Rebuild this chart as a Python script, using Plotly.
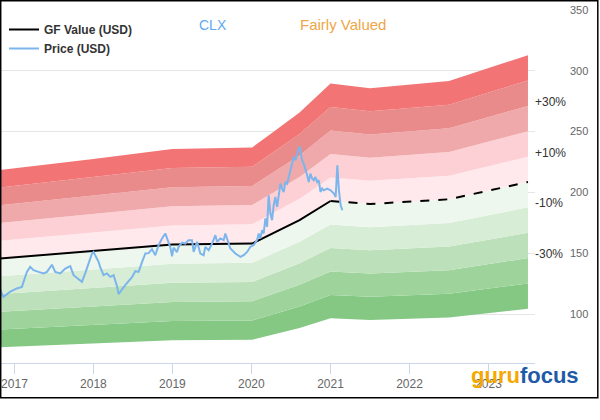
import numpy as np
import pandas as pd
import plotly.graph_objects as go

# ---------------- data ----------------
# GF Value knots (decimal years) and values (USD)
gf_t = [2016.819, 2018.0, 2019.0, 2020.01, 2020.23, 2020.61, 2021.0, 2021.5, 2022.5, 2023.5]
gf_v = [145.7, 151.7, 157.2, 158.0, 164.9, 177.2, 193.0, 190.5, 194.4, 208.6]
gf_solid_end = 2021.0

# Price (USD)
price_t = [2016.819, 2016.861, 2016.945, 2017.030, 2017.094, 2017.136, 2017.157, 2017.199, 2017.241, 2017.304,
           2017.368, 2017.411, 2017.474, 2017.516, 2017.579, 2017.643, 2017.706, 2017.748, 2017.811, 2017.854,
           2017.896, 2017.938, 2017.981, 2018.001, 2018.044, 2018.065, 2018.086, 2018.128, 2018.171, 2018.213,
           2018.255, 2018.298, 2018.318, 2018.361, 2018.403, 2018.445, 2018.488, 2018.530, 2018.572, 2018.615,
           2018.657, 2018.698, 2018.741, 2018.783, 2018.825, 2018.868, 2018.910, 2018.932, 2018.973, 2018.995,
           2019.015, 2019.058, 2019.079, 2019.122, 2019.163, 2019.205, 2019.248, 2019.269, 2019.312, 2019.332,
           2019.354, 2019.395, 2019.417, 2019.459, 2019.502, 2019.544, 2019.565, 2019.607, 2019.649, 2019.670,
           2019.712, 2019.734, 2019.797, 2019.861, 2019.902, 2019.946, 2019.987, 2020.029, 2020.072, 2020.093,
           2020.114, 2020.136, 2020.156, 2020.178, 2020.199, 2020.219, 2020.241, 2020.262, 2020.283, 2020.304,
           2020.326, 2020.346, 2020.368, 2020.389, 2020.409, 2020.431, 2020.453, 2020.473, 2020.494, 2020.516,
           2020.536, 2020.558, 2020.579, 2020.600, 2020.612, 2020.621, 2020.643, 2020.663, 2020.684, 2020.706,
           2020.726, 2020.748, 2020.769, 2020.790, 2020.811, 2020.833, 2020.853, 2020.875, 2020.896, 2020.916,
           2020.959, 2021.001, 2021.043, 2021.065, 2021.086, 2021.106, 2021.128, 2021.150]
price_v = [120.5, 114.2, 118.3, 121.1, 122.4, 130.4, 134.7, 138.8, 136.1, 134.7,
           133.4, 134.7, 140.6, 134.7, 133.4, 137.5, 139.4, 132.0, 128.7, 126.5,
           133.7, 141.1, 149.8, 151.1, 145.7, 142.9, 138.6, 132.0, 133.4, 130.6,
           132.0, 123.0, 116.4, 120.5, 123.8, 127.1, 130.4, 135.3, 134.7, 142.7,
           149.8, 150.1, 153.4, 148.4, 156.7, 162.2, 166.3, 162.2, 155.0, 147.6,
           154.6, 151.0, 155.3, 158.7, 158.0, 160.8, 160.8, 151.1, 159.4, 155.0,
           149.8, 148.4, 155.3, 152.5, 158.0, 164.9, 159.4, 162.2, 160.8, 166.3,
           158.0, 153.9, 149.8, 147.0, 148.4, 151.1, 155.4, 156.7, 160.8, 166.3,
           162.2, 169.0, 166.3, 178.6, 171.7, 197.7, 182.7, 177.2, 189.5, 196.3,
           188.1, 197.7, 207.3, 203.2, 200.4, 208.6, 207.3, 212.7, 218.2, 223.7,
           229.1, 226.4, 231.9, 236.0, 237.9, 233.3, 226.4, 223.7, 219.6, 214.1,
           208.6, 215.5, 211.4, 210.0, 212.7, 208.6, 210.0, 200.4, 203.2, 201.8,
           203.2, 201.8, 199.1, 196.3, 222.3, 201.8, 189.5, 185.4]

# band boundaries as fraction offsets from GF Value
band_steps = [-0.5, -0.4, -0.3, -0.2, -0.1, 0.0, 0.1, 0.2, 0.3, 0.4, 0.5]
band_colors = ["#84c884", "#9fd39c", "#bce0b9", "#d7edd5", "#eef7ee",
               "#ffe9ec", "#fdd0d5", "#f0a9aa", "#e98b8b", "#f27474"]
band_labels = ["+30%", "+10%", "-10%", "-30%"]
band_label_steps = [0.3, 0.1, -0.1, -0.3]

y_ticks = [100, 150, 200, 250, 300, 350]
title_ticker = "CLX"
title_status = "Fairly Valued"


def to_date(y):
    yr = int(np.floor(y))
    return pd.Timestamp(year=yr, month=1, day=1) + pd.Timedelta(days=(y - yr) * 365.25)


gf_dates = [to_date(t) for t in gf_t]
price_dates = [to_date(t) for t in price_t]
gf_arr = np.array(gf_v)

fig = go.Figure()

# bands
for i, s in enumerate(band_steps):
    fig.add_trace(go.Scatter(
        x=gf_dates, y=gf_arr * (1 + s), mode="lines",
        line=dict(width=0, color="rgba(0,0,0,0)"),
        fill=None if i == 0 else "tonexty",
        fillcolor=None if i == 0 else band_colors[i - 1],
        showlegend=False, hoverinfo="skip"))

# GF value solid and dashed
solid_idx = [i for i, t in enumerate(gf_t) if t <= gf_solid_end]
dash_idx = [i for i, t in enumerate(gf_t) if t >= gf_solid_end]
fig.add_trace(go.Scatter(
    x=[gf_dates[i] for i in solid_idx], y=[gf_v[i] for i in solid_idx],
    mode="lines", line=dict(color="black", width=2),
    name="<b>GF Value (USD)</b>"))
fig.add_trace(go.Scatter(
    x=[gf_dates[i] for i in dash_idx], y=[gf_v[i] for i in dash_idx],
    mode="lines", line=dict(color="black", width=2, dash="dash"),
    showlegend=False))

fig.add_trace(go.Scatter(
    x=price_dates, y=price_v, mode="lines",
    line=dict(color="#7cb5ec", width=2),
    name="<b>Price (USD)</b>"))

W, H = 600, 420
L, R, T, B = 0, 65, 10, 57
pw, ph = W - L - R, H - T - B


def px_x(p):
    return (p - L) / pw


def px_y(p):
    return 1 - (p - T) / ph


ann = []
for lab, s in zip(band_labels, band_label_steps):
    ann.append(dict(text=lab, xref="paper", yref="y", x=1, y=gf_v[-1] * (1 + s),
                    xanchor="left", yanchor="middle", xshift=-2, yshift=4, showarrow=False,
                    font=dict(size=12, color="#333333", family="Liberation Sans")))
ann.append(dict(text=title_ticker, xref="paper", yref="paper", x=px_x(213), y=px_y(25),
                xanchor="center", yanchor="middle", showarrow=False,
                font=dict(size=14, color="#62a8ef", family="Liberation Sans")))
ann.append(dict(text=title_status, xref="paper", yref="paper", x=px_x(343), y=px_y(24),
                xanchor="center", yanchor="middle", showarrow=False,
                font=dict(size=15, color="#eea647", family="Liberation Sans")))
ann.append(dict(text="<span style='color:#f5a800'>guru</span><span style='color:#1f5aa6'>focus</span>",
                xref="paper", yref="paper", x=px_x(581), y=px_y(375),
                xanchor="right", yanchor="middle", showarrow=False,
                font=dict(size=22, family="Liberation Sans Narrow, Liberation Sans", weight="bold")))

fig.update_layout(
    width=W, height=H,
    margin=dict(l=L, r=R, t=T, b=B),
    paper_bgcolor="white", plot_bgcolor="white",
    font=dict(family="Liberation Sans", color="#333333"),
    showlegend=True,
    legend=dict(x=px_x(4), y=px_y(15), xanchor="left", yanchor="top", traceorder="normal",
                bgcolor="rgba(0,0,0,0)", font=dict(size=12, color="#333333"),
                tracegroupgap=0, itemwidth=30),
    annotations=ann,
    shapes=[dict(type="rect", xref="paper", yref="paper",
                 x0=px_x(0.7), x1=px_x(597.8), y0=px_y(0.7), y1=px_y(397.8),
                 line=dict(color="black", width=1.5), fillcolor="rgba(0,0,0,0)", layer="above")],
)
fig.update_xaxes(
    type="date", range=[to_date(2016.819), to_date(2023.589)],
    tick0="2017-01-01", dtick="M12", tickformat="%Y",
    showgrid=False, showline=True, linecolor="#ccd6eb", linewidth=1,
    ticks="outside", ticklen=10, tickcolor="#ccd6eb",
    tickfont=dict(size=12, color="#666666"), zeroline=False)
fig.update_yaxes(
    range=[59.8, 350], side="right", tickvals=y_ticks,
    showgrid=True, gridcolor="#e6e6e6", gridwidth=1, zeroline=False,
    ticks="", ticklabelstandoff=34, tickfont=dict(size=11, color="#666666"))

fig.write_html("out.html")
